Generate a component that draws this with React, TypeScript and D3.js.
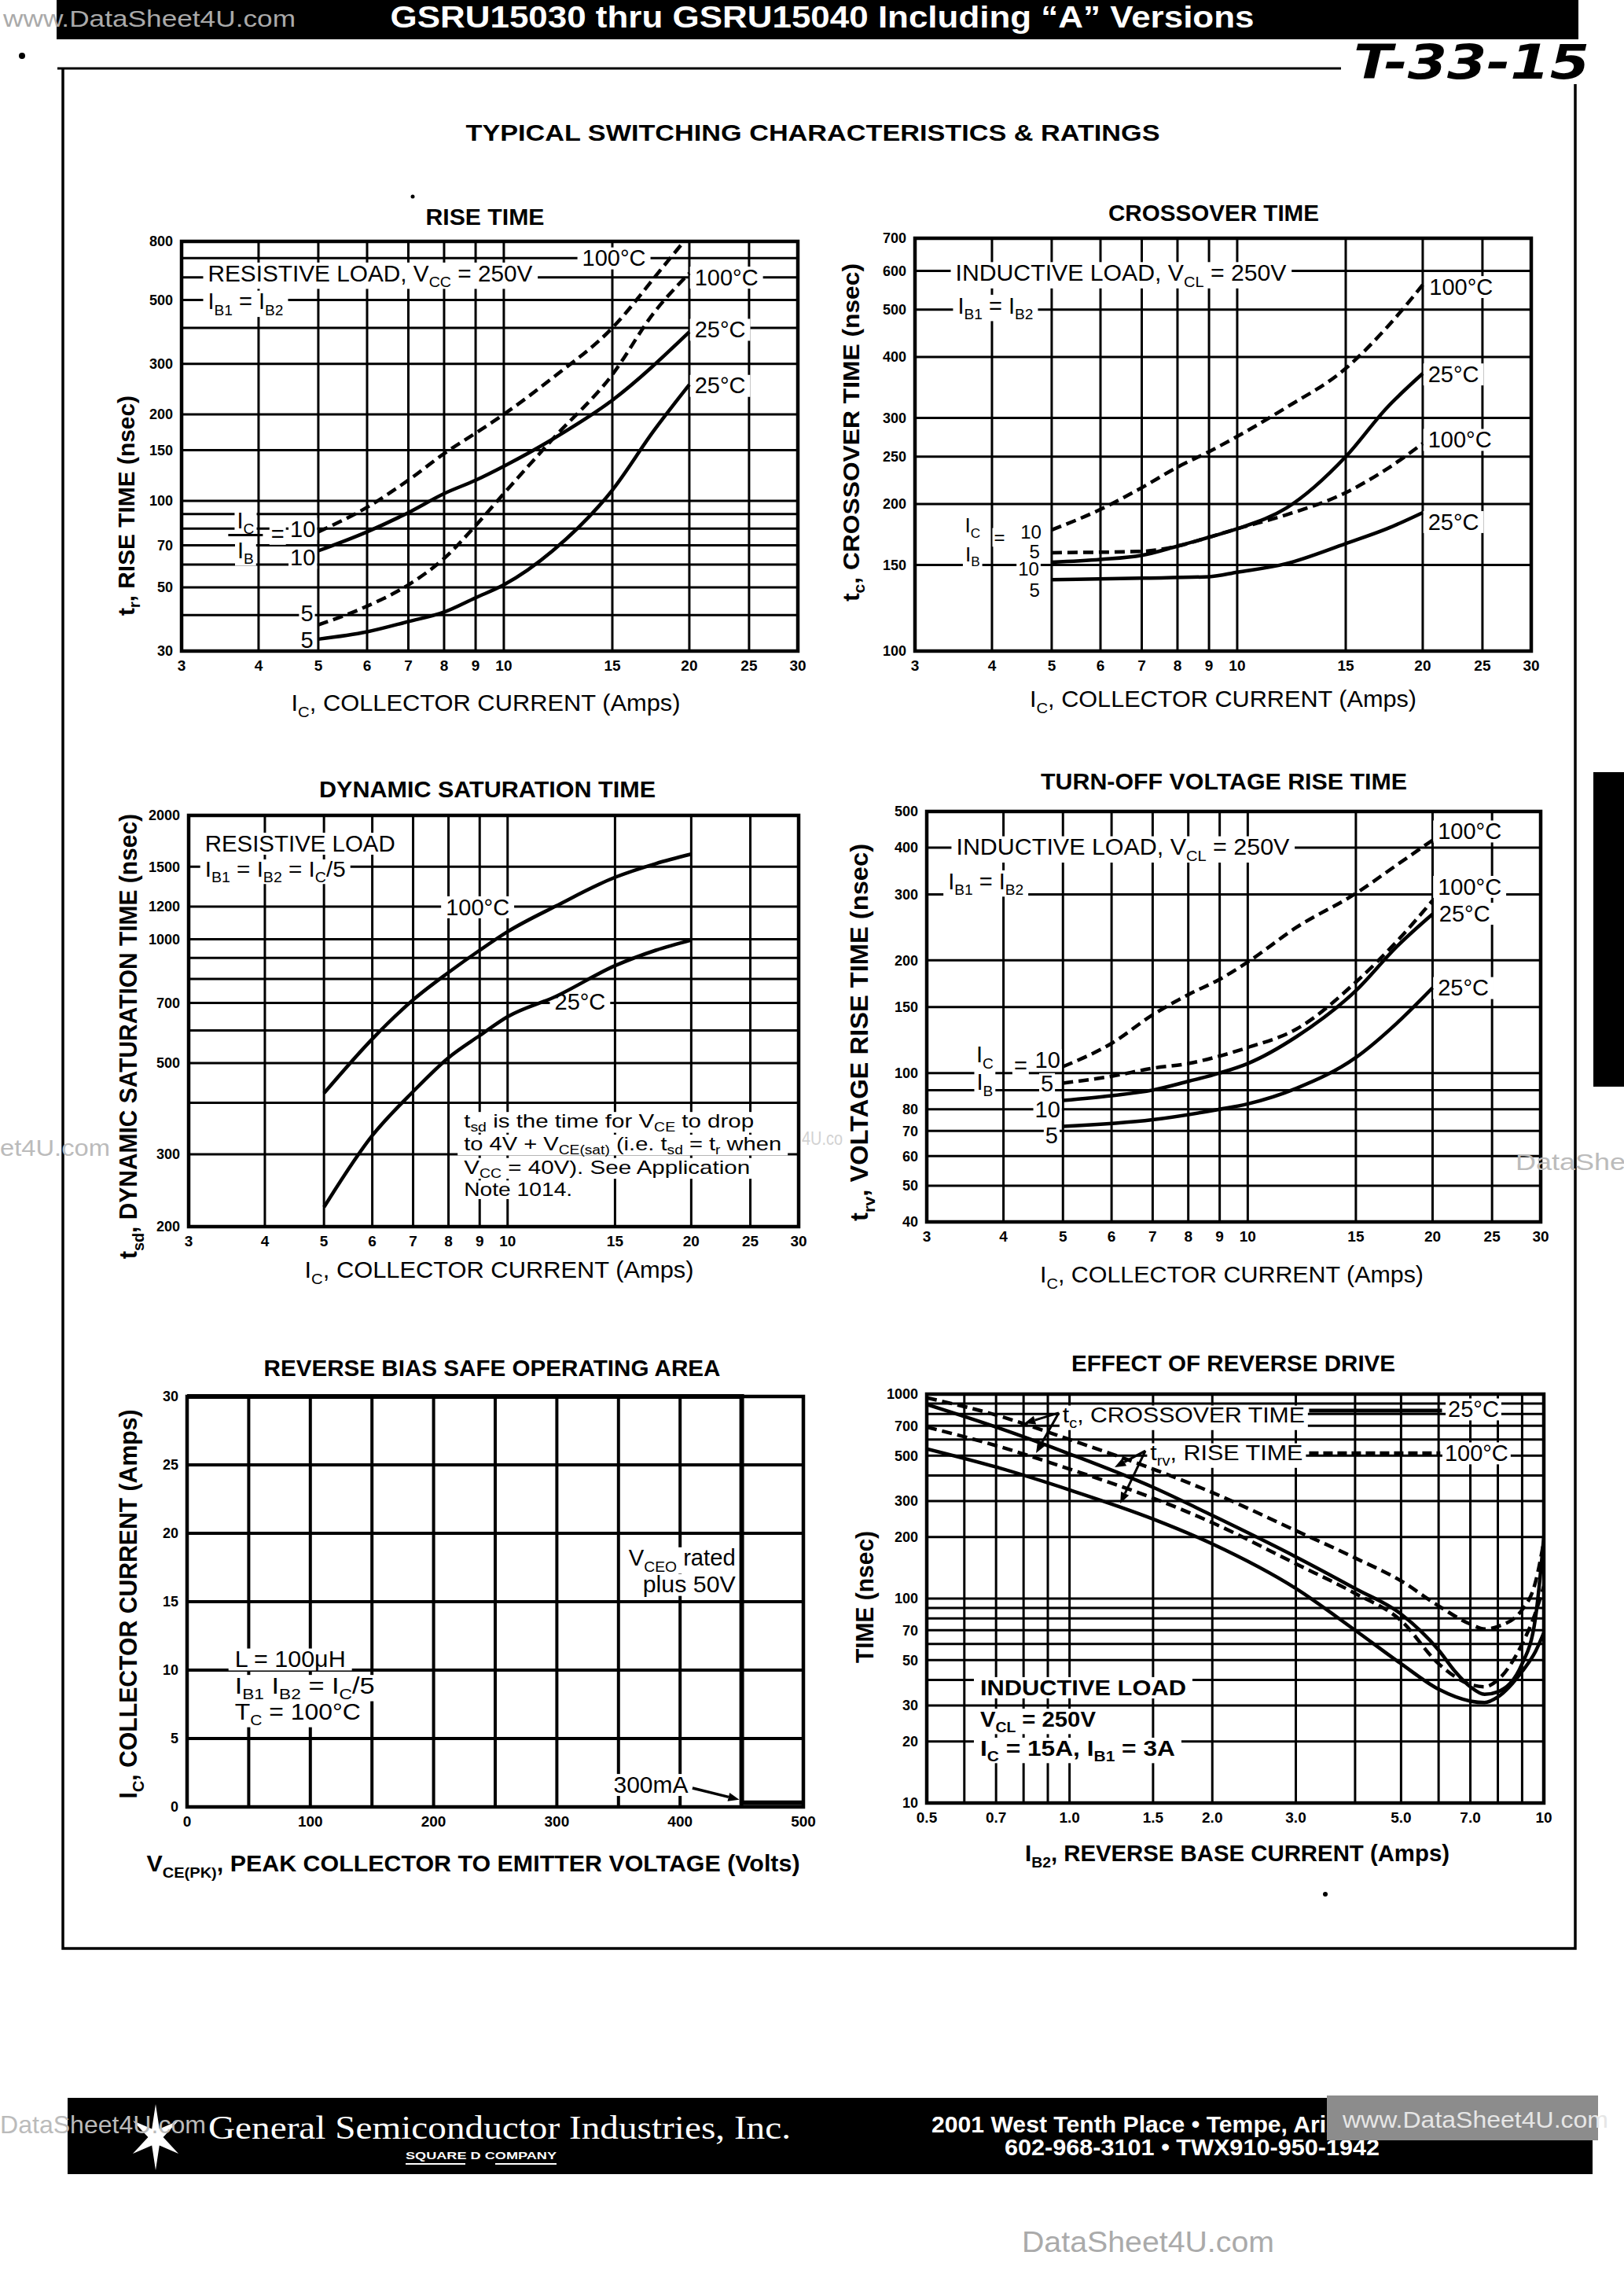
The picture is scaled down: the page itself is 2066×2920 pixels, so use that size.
import React, { useLayoutEffect, useRef, useState } from 'react';
import * as d3 from 'd3';

const FONT = "'Liberation Sans', Arial, Helvetica, sans-serif";
const SERIF = "'Liberation Serif', 'Times New Roman', serif";

// collector current axis shared by the four Ic charts
const icTicks = [3, 4, 5, 6, 7, 8, 9, 10, 15, 20, 25, 30];
const icGrid = [4, 5, 6, 7, 8, 9, 10, 15, 20, 25];

// rise time, resistive load (Ic, nsec)
const riseTicks = [30, 50, 70, 100, 150, 200, 300, 500, 800];
const riseGrid = [40, 50, 60, 70, 80, 90, 100, 150, 200, 300, 400, 500, 600, 700];
const rise100Ratio10 = [[5, 78], [6, 95], [7, 118], [8, 146], [9, 172], [10, 200], [12, 268], [15, 400], [18, 640], [19.6, 800]];
const rise100Ratio5 = [[5, 37], [6, 43], [7, 51], [8, 63], [9, 82], [10, 106], [12, 164], [15, 275], [17.5, 450], [20, 620]];
const rise25Ratio10 = [[5, 67], [6, 78], [7, 91], [8, 106], [9, 118], [10, 132], [12, 164], [15, 224], [20, 387]];
const rise25Ratio5 = [[5, 33], [6, 35], [7, 38], [8, 41], [9, 46], [10, 51], [12, 67], [15, 109], [17.5, 175], [20, 254]];

// crossover time, inductive load
const crossTicks = [100, 150, 200, 250, 300, 400, 500, 600, 700];
const crossGrid = [150, 200, 250, 300, 400, 500, 600];
const cross100Ratio10 = [[5, 177], [6, 195], [7, 216], [8, 238], [9, 256], [10, 275], [12, 315], [15, 379], [17.5, 460], [20, 562]];
const cross25Ratio10 = [[5, 152], [6, 154], [7, 157], [8, 164], [9, 171], [10, 178], [12, 196], [15, 250], [17.5, 315], [20, 370]];
const cross100Ratio5 = [[5, 159], [7, 160], [8, 164], [9, 171], [10, 178], [12, 190], [15, 211], [17.5, 236], [20, 266]];
const cross25Ratio5 = [[5, 140], [7, 141], [9, 142], [10, 145], [12, 151], [15, 166], [17.5, 178], [20, 192]];

// dynamic saturation time
const satTicks = [200, 300, 500, 700, 1000, 1200, 1500, 2000];
const satGrid = [300, 400, 500, 600, 700, 800, 900, 1000, 1200, 1500];
const sat100 = [[5, 422], [6, 572], [7, 712], [8, 830], [9, 940], [10, 1043], [12, 1204], [15, 1414], [17.5, 1527], [20, 1610]];
const sat25 = [[5, 223], [6, 333], [7, 426], [8, 515], [9, 583], [10, 648], [12, 726], [15, 862], [17.5, 940], [20, 995]];

// turn-off voltage rise time
const vrTicks = [40, 50, 60, 70, 80, 100, 150, 200, 300, 400, 500];
const vrGrid = [50, 60, 70, 80, 90, 100, 150, 200, 300, 400];
const vr100Ratio10 = [[5, 104], [6, 120], [7, 143], [8, 162], [9, 178], [10, 198], [12, 245], [15, 302], [17.5, 360], [20, 419]];
const vr100Ratio5 = [[5, 94], [6, 98], [7, 103], [8, 106], [9, 111], [10, 117], [12, 131], [15, 175], [17.5, 225], [20, 289]];
const vr25Ratio10 = [[5, 84.5], [6, 87], [7, 90], [8, 95], [9, 100], [10, 106], [12, 125], [15, 166], [17.5, 218], [20, 266]];
const vr25Ratio5 = [[5, 72], [7, 75], [9, 80], [10, 82.7], [12, 91], [15, 110], [17.5, 136], [20, 169]];

// reverse bias safe operating area (Volts, Amps)
const vceTicks = [0, 100, 200, 300, 400, 500];
const vceGrid = [50, 100, 150, 200, 250, 300, 350, 400, 450];
const soaTicks = [0, 5, 10, 15, 20, 25, 30];
const soaGrid = [5, 10, 15, 20, 25];
const soaBoundary = [[0, 30], [450, 30], [450, 0.3], [500, 0.3]];

// effect of reverse drive (Ib2 Amps, nsec)
const ib2Ticks = [0.5, 0.7, 1, 1.5, 2, 3, 5, 7, 10];
const ib2Grid = [0.6, 0.7, 0.8, 0.9, 1, 1.5, 2, 3, 4, 5, 6, 7, 8, 9];
const timeTicks = [10, 20, 30, 50, 70, 100, 200, 300, 500, 700, 1000];
const timeGrid = [20, 30, 40, 50, 60, 70, 80, 90, 100, 200, 300, 400, 500, 600, 700, 800, 900];
const tc100 = [[0.5, 960], [0.7, 790], [1, 600], [1.5, 430], [2, 330], [3, 215], [4, 158], [5, 122], [6, 92], [7, 75], [7.5, 71], [8, 73], [9, 88], [9.6, 120], [10, 190]];
const tc25 = [[0.5, 890], [0.7, 690], [1, 510], [1.5, 350], [2, 255], [3, 160], [4, 112], [5, 84], [6, 56], [6.5, 44], [7, 37], [7.5, 34], [8, 35], [9, 48], [9.6, 80], [10, 200]];
const trv100 = [[0.5, 690], [0.7, 560], [1, 430], [1.5, 310], [2, 235], [3, 148], [4, 106], [5, 78], [6, 48], [7, 38], [7.5, 37], [8, 40], [9, 60], [9.6, 85], [10, 115]];
const trv25 = [[0.5, 540], [0.7, 440], [1, 340], [1.5, 245], [2, 185], [3, 112], [4, 70], [5, 48], [6, 36], [7, 31.5], [7.5, 31], [8, 33], [9, 44], [9.6, 55], [10, 68]];

type Part = string | { s: string };
type Box = { l: number; r: number; t: number; b: number };

const P1: Box = { l: 231, r: 1015, t: 307, b: 828 };
const P2: Box = { l: 1164, r: 1948, t: 303, b: 828 };
const P3: Box = { l: 240, r: 1016, t: 1037, b: 1560 };
const P4: Box = { l: 1179, r: 1960, t: 1032, b: 1554 };
const P5: Box = { l: 238, r: 1022, t: 1776, b: 2298 };
const P6: Box = { l: 1179, r: 1964, t: 1773, b: 2293 };

// text with subscripts
function rich(parts: Part[] | string, size: number, shift = 0.26) {
  if (typeof parts === 'string') return parts;
  const sh = size * shift;
  let low = false;
  return parts.map((p, i) => {
    if (typeof p === 'string') {
      const dy = low ? -sh : undefined;
      low = false;
      return <tspan key={i} dy={dy}>{p}</tspan>;
    }
    const dy = low ? undefined : sh;
    low = true;
    return <tspan key={i} dy={dy} fontSize={size * 0.66}>{p.s}</tspan>;
  });
}

// label on a white patch that breaks the grid behind it
function Label({ x, y, size = 29, weight = 'normal', anchor = 'start', len, pad = 6, parts, shift }: any) {
  const ref = useRef<SVGTextElement>(null);
  const [bb, setBb] = useState<{ x: number; y: number; w: number; h: number } | null>(null);
  useLayoutEffect(() => {
    if (ref.current) {
      const b = ref.current.getBBox();
      setBb({ x: b.x, y: b.y, w: b.width, h: b.height });
    }
  }, []);
  return (
    <g>
      {bb && pad >= 0 && (
        <rect x={bb.x - pad} y={bb.y + size * 0.08} width={bb.w + pad * 2} height={bb.h - size * 0.14} fill="#fff" />
      )}
      <text ref={ref} x={x} y={y} dy="0.35em" fontFamily={FONT} fontSize={size} fontWeight={weight} textAnchor={anchor}
        fill="#000" textLength={len} lengthAdjust={len ? 'spacingAndGlyphs' : undefined}>
        {rich(parts, size, shift)}
      </text>
    </g>
  );
}

function YLabel({ cx, cy, len, size = 32, parts }: any) {
  return (
    <text transform={`translate(${cx},${cy}) rotate(-90)`} textAnchor="middle" dy="0.35em" fontFamily={FONT}
      fontWeight="bold" fontSize={size} textLength={len} lengthAdjust="spacingAndGlyphs">
      {rich(parts, size)}
    </text>
  );
}

function Arrow({ x1, y1, x2, y2, head = 16, w = 3 }: any) {
  const a = Math.atan2(y2 - y1, x2 - x1);
  const c = Math.cos(a), s = Math.sin(a);
  const bx = x2 - head * c, by = y2 - head * s;
  const pts = [[x2, y2], [bx + head * 0.4 * s, by - head * 0.4 * c], [bx - head * 0.4 * s, by + head * 0.4 * c]];
  return (
    <g>
      <line x1={x1} y1={y1} x2={bx} y2={by} stroke="#000" strokeWidth={w} />
      <polygon points={pts.map(p => p.join(',')).join(' ')} fill="#000" />
    </g>
  );
}

function Panel({ id, box, x, y, gridX, gridY, ticksX, ticksY, fmtX = String, curves, gridW = 3, children }: any) {
  const line = d3.line<number[]>().x(d => x(d[0])).y(d => y(d[1])).curve(d3.curveMonotoneX);
  const w = box.r - box.l, h = box.b - box.t;
  return (
    <g>
      <clipPath id={id}><rect x={box.l} y={box.t} width={w} height={h} /></clipPath>
      <g stroke="#000" strokeWidth={gridW}>
        {gridX.map((v: number) => <line key={'gx' + v} x1={x(v)} x2={x(v)} y1={box.t} y2={box.b} />)}
        {gridY.map((v: number) => <line key={'gy' + v} x1={box.l} x2={box.r} y1={y(v)} y2={y(v)} />)}
      </g>
      {children}
      <g clipPath={`url(#${id})`} fill="none" stroke="#000" strokeWidth={4.5}>
        {curves.map((c: any, i: number) => (
          <path key={i} d={line(c.pts) || ''} strokeDasharray={c.dashed ? '13 7' : undefined} />
        ))}
      </g>
      <rect x={box.l} y={box.t} width={w} height={h} fill="none" stroke="#000" strokeWidth={4.5} />
      <g fontFamily={FONT} fontWeight="bold" fontSize={18} textAnchor="end">
        {ticksY.map((v: number) => <text key={v} x={box.l - 11} y={y(v)} dy="0.35em">{v}</text>)}
      </g>
      <g fontFamily={FONT} fontWeight="bold" fontSize={19} textAnchor="middle">
        {ticksX.map((v: number) => <text key={v} x={x(v)} y={box.b + 25}>{fmtX(v)}</text>)}
      </g>
    </g>
  );
}

function Title({ x, y, text, len }: any) {
  return (
    <text x={x} y={y} dy="0.35em" textAnchor="middle" fontFamily={FONT} fontWeight="bold" fontSize={30}
      textLength={len} lengthAdjust="spacingAndGlyphs">{text}</text>
  );
}

function XLabel({ x, y, parts, len, bold = false }: any) {
  return (
    <text x={x} y={y} dy="0.35em" textAnchor="middle" fontFamily={FONT} fontWeight={bold ? 'bold' : 'normal'}
      fontSize={29} textLength={len} lengthAdjust="spacingAndGlyphs">{rich(parts, 29)}</text>
  );
}

function Fraction({ x, y, top, bottom }: any) {
  return (
    <g>
      <Label x={x} y={y - 19} anchor="middle" pad={3} parts={top} />
      <Label x={x} y={y + 19} anchor="middle" pad={3} parts={bottom} />
      <line x1={x - 22} x2={x + 22} y1={y} y2={y} stroke="#000" strokeWidth={3} />
    </g>
  );
}

const icLabel: Part[] = ['I', { s: 'C' }, ', COLLECTOR CURRENT (Amps)'];
const ib12: Part[] = ['I', { s: 'B1' }, ' = I', { s: 'B2' }];

export default function App() {
  const x1 = d3.scaleLog().domain([3, 30]).range([P1.l, P1.r]);
  const y1 = d3.scaleLog().domain([30, 800]).range([P1.b, P1.t]);
  const x2 = d3.scaleLog().domain([3, 30]).range([P2.l, P2.r]);
  const y2 = d3.scaleLog().domain([100, 700]).range([P2.b, P2.t]);
  const x3 = d3.scaleLog().domain([3, 30]).range([P3.l, P3.r]);
  const y3 = d3.scaleLog().domain([200, 2000]).range([P3.b, P3.t]);
  const x4 = d3.scaleLog().domain([3, 30]).range([P4.l, P4.r]);
  const y4 = d3.scaleLog().domain([40, 500]).range([P4.b, P4.t]);
  const x5 = d3.scaleLinear().domain([0, 500]).range([P5.l, P5.r]);
  const y5 = d3.scaleLinear().domain([0, 30]).range([P5.b, P5.t]);
  const x6 = d3.scaleLog().domain([0.5, 10]).range([P6.l, P6.r]);
  const y6 = d3.scaleLog().domain([10, 1000]).range([P6.b, P6.t]);

  const soaLine = d3.line<number[]>().x(d => x5(d[0])).y(d => y5(d[1]));
  const star = d3.range(12).map(i => {
    const a = (i * Math.PI) / 6 - Math.PI / 2;
    const r = i % 2 === 0 ? 42 : 12;
    return [198 + r * Math.cos(a) * 0.8, 2718 + r * Math.sin(a)];
  });

  return (
    <svg width={2066} height={2920} style={{ position: 'absolute', left: 0, top: 0, display: 'block' }}>
      <rect width={2066} height={2920} fill="#fff" />

      {/* header band */}
      <rect x={72} y={0} width={1936} height={50} fill="#000" />
      <text x={1046} y={35} textAnchor="middle" fontFamily={FONT} fontWeight="bold" fontSize={38} fill="#fff"
        textLength={1099} lengthAdjust="spacingAndGlyphs">GSRU15030 thru GSRU15040 Including {'\u201CA\u201D'} Versions</text>
      <text x={4} y={34} fontFamily={FONT} fontSize={30} fill="#aaa" textLength={372} lengthAdjust="spacingAndGlyphs">www.DataSheet4U.com</text>
      <line x1={73} x2={1706} y1={87} y2={87} stroke="#000" strokeWidth={3} />
      <text x={1722} y={100} fontFamily="'DejaVu Sans', sans-serif" fontWeight="bold" fontStyle="italic" fontSize={60}
        textLength={300} lengthAdjust="spacingAndGlyphs">T-33-15</text>
      <circle cx={28} cy={71} r={4} fill="#000" />

      {/* page frame */}
      <path d="M80,87 V2478 H2004 V107" fill="none" stroke="#000" strokeWidth={3.5} />
      <rect x={2027} y={982} width={39} height={400} fill="#000" />

      <Title x={1034} y={168} text="TYPICAL SWITCHING CHARACTERISTICS & RATINGS" len={883} />

      {/* rise time */}
      <Title x={617} y={275} text="RISE TIME" len={151} />
      <circle cx={525} cy={250} r={2.5} fill="#000" />
      <Panel id="c1" box={P1} x={x1} y={y1} gridX={icGrid} gridY={riseGrid} ticksX={icTicks} ticksY={riseTicks}
        curves={[
          { pts: rise100Ratio10, dashed: true },
          { pts: rise100Ratio5, dashed: true },
          { pts: rise25Ratio10 },
          { pts: rise25Ratio5 },
        ]}>
        <Label x={x1(3.31)} y={y1(620)} len={413} parts={['RESISTIVE LOAD, V', { s: 'CC' }, ' = 250V']} />
        <Label x={x1(3.31)} y={y1(495)} parts={ib12} />
        <Label x={x1(13.4)} y={y1(700)} parts="100°C" />
        <Label x={x1(20.4)} y={y1(600)} parts="100°C" />
        <Label x={x1(20.4)} y={y1(395)} parts="25°C" />
        <Label x={x1(20.4)} y={y1(252)} parts="25°C" />
        <Fraction x={x1(3.81)} y={y1(76)} top={['I', { s: 'C' }]} bottom={['I', { s: 'B' }]} />
        <Label x={x1(4.19)} y={y1(77)} pad={2} parts="=" />
        <Label x={x1(4.5)} y={y1(80)} pad={2} parts="10" />
        <Label x={x1(4.5)} y={y1(63.5)} pad={2} parts="10" />
        <Label x={x1(4.68)} y={y1(40.6)} pad={2} parts="5" />
        <Label x={x1(4.68)} y={y1(32.8)} pad={2} parts="5" />
      </Panel>
      <YLabel cx={160} cy={643} len={280} size={30} parts={['t', { s: 'r' }, ', RISE TIME (nsec)']} />
      <XLabel x={618} y={894} len={495} parts={icLabel} />

      {/* crossover time */}
      <Title x={1544} y={270} text="CROSSOVER TIME" len={268} />
      <Panel id="c2" box={P2} x={x2} y={y2} gridX={icGrid} gridY={crossGrid} ticksX={icTicks} ticksY={crossTicks}
        curves={[
          { pts: cross100Ratio10, dashed: true },
          { pts: cross25Ratio10 },
          { pts: cross100Ratio5, dashed: true },
          { pts: cross25Ratio5 },
        ]}>
        <Label x={x2(3.49)} y={y2(595)} len={421} parts={['INDUCTIVE LOAD, V', { s: 'CL' }, ' = 250V']} />
        <Label x={x2(3.52)} y={y2(510)} parts={ib12} />
        <Label x={x2(20.5)} y={y2(557)} parts="100°C" />
        <Label x={x2(20.4)} y={y2(369)} parts="25°C" />
        <Label x={x2(20.4)} y={y2(271)} parts="100°C" />
        <Label x={x2(20.4)} y={y2(184)} parts="25°C" />
        <Label x={x2(3.72)} y={y2(181)} anchor="middle" size={26} pad={3} parts={['I', { s: 'C' }]} />
        <Label x={x2(3.72)} y={y2(158)} anchor="middle" size={26} pad={3} parts={['I', { s: 'B' }]} />
        <Label x={x2(4.03)} y={y2(171)} size={24} pad={2} parts="=" />
        <Label x={x2(4.45)} y={y2(175)} size={24} pad={2} parts="10" />
        <Label x={x2(4.6)} y={y2(160)} size={24} pad={2} parts="5" />
        <Label x={x2(4.41)} y={y2(147)} size={24} pad={2} parts="10" />
        <Label x={x2(4.6)} y={y2(133)} size={24} pad={2} parts="5" />
      </Panel>
      <YLabel cx={1082} cy={550} len={430} size={30} parts={['t', { s: 'c' }, ', CROSSOVER TIME (nsec)']} />
      <XLabel x={1556} y={889} len={492} parts={icLabel} />

      {/* dynamic saturation time */}
      <Title x={620} y={1003} text="DYNAMIC SATURATION TIME" len={428} />
      <Panel id="c3" box={P3} x={x3} y={y3} gridX={icGrid} gridY={satGrid} ticksX={icTicks} ticksY={satTicks}
        curves={[{ pts: sat100 }, { pts: sat25 }]}>
        <Label x={x3(3.19)} y={y3(1710)} len={242} parts="RESISTIVE LOAD" />
        <Label x={x3(3.19)} y={y3(1480)} len={179} size={27} parts={['I', { s: 'B1' }, ' = I', { s: 'B2' }, ' = I', { s: 'C' }, '/5']} />
        <Label x={x3(7.92)} y={y3(1198)} parts="100°C" />
        <Label x={x3(11.94)} y={y3(706)} parts="25°C" />
        <Label x={x3(8.48)} y={y3(361)} size={24} shift={0.2} len={369} pad={8}
          parts={['t', { s: 'sd' }, ' is the time for V', { s: 'CE' }, ' to drop']} />
        <Label x={x3(8.48)} y={y3(318)} size={24} shift={0.2} len={404} pad={8}
          parts={['to 4V + V', { s: 'CE(sat)' }, ' (i.e. t', { s: 'sd' }, ' = t', { s: 'r' }, ' when']} />
        <Label x={x3(8.48)} y={y3(279)} size={24} shift={0.2} len={364} pad={8}
          parts={['V', { s: 'CC' }, ' = 40V). See Application']} />
        <Label x={x3(8.48)} y={y3(246)} size={24} len={138} pad={8} parts="Note 1014." />
      </Panel>
      <YLabel cx={163} cy={1318} len={566} size={32} parts={['t', { s: 'sd' }, ', DYNAMIC SATURATION TIME (nsec)']} />
      <XLabel x={635} y={1615} len={495} parts={icLabel} />

      {/* turn-off voltage rise time */}
      <Title x={1557} y={993} text="TURN-OFF VOLTAGE RISE TIME" len={466} />
      <Panel id="c4" box={P4} x={x4} y={y4} gridX={icGrid} gridY={vrGrid} ticksX={icTicks} ticksY={vrTicks}
        curves={[
          { pts: vr100Ratio10, dashed: true },
          { pts: vr100Ratio5, dashed: true },
          { pts: vr25Ratio10 },
          { pts: vr25Ratio5 },
        ]}>
        <Label x={x4(3.35)} y={y4(402)} len={424} parts={['INDUCTIVE LOAD, V', { s: 'CL' }, ' = 250V']} />
        <Label x={x4(3.25)} y={y4(326)} parts={ib12} />
        <Label x={x4(20.4)} y={y4(443)} parts="100°C" />
        <Label x={x4(20.4)} y={y4(315)} parts="100°C" />
        <Label x={x4(20.5)} y={y4(267)} parts="25°C" />
        <Label x={x4(20.4)} y={y4(169)} parts="25°C" />
        <Label x={x4(3.73)} y={y4(112)} anchor="middle" pad={3} parts={['I', { s: 'C' }]} />
        <Label x={x4(3.73)} y={y4(94.6)} anchor="middle" pad={3} parts={['I', { s: 'B' }]} />
        <Label x={x4(4.16)} y={y4(105)} pad={2} parts="=" />
        <Label x={x4(4.5)} y={y4(108.5)} pad={2} parts="10" />
        <Label x={x4(4.6)} y={y4(93.6)} pad={2} parts="5" />
        <Label x={x4(4.5)} y={y4(80)} pad={2} parts="10" />
        <Label x={x4(4.68)} y={y4(68)} pad={2} parts="5" />
      </Panel>
      <YLabel cx={1093} cy={1313} len={480} size={32} parts={['t', { s: 'rv' }, ', VOLTAGE RISE TIME (nsec)']} />
      <XLabel x={1567} y={1621} len={488} parts={icLabel} />

      {/* reverse bias safe operating area */}
      <Title x={626} y={1739} text="REVERSE BIAS SAFE OPERATING AREA" len={581} />
      <Panel id="c5" box={P5} x={x5} y={y5} gridX={vceGrid} gridY={soaGrid} ticksX={vceTicks} ticksY={soaTicks}
        gridW={4} curves={[]}>
        <Label x={x5(38.7)} y={y5(10.8)} len={141} pad={8} parts="L = 100μH" />
        <Label x={x5(38.7)} y={y5(8.87)} len={178} pad={8} parts={['I', { s: 'B1' }, ' I', { s: 'B2' }, ' = I', { s: 'C' }, '/5']} />
        <Label x={x5(38.7)} y={y5(6.97)} len={160} pad={8} parts={['T', { s: 'C' }, ' = 100°C']} />
        <Label x={x5(445)} y={y5(18.2)} anchor="end" len={136} pad={8} parts={['V', { s: 'CEO' }, ' rated']} />
        <Label x={x5(445)} y={y5(16.25)} anchor="end" len={118} pad={8} parts="plus 50V" />
        <Label x={x5(346)} y={y5(1.63)} len={95} pad={6} parts="300mA" />
      </Panel>
      <path d={soaLine(soaBoundary) || ''} fill="none" stroke="#000" strokeWidth={6} />
      <Arrow x1={x5(410)} y1={y5(1.38)} x2={x5(448)} y2={y5(0.53)} head={14} w={3.5} />
      <YLabel cx={163} cy={2040} len={495} size={32} parts={['I', { s: 'C' }, ', COLLECTOR CURRENT (Amps)']} />
      <XLabel x={602} y={2370} len={831} bold parts={['V', { s: 'CE(PK)' }, ', PEAK COLLECTOR TO EMITTER VOLTAGE (Volts)']} />

      {/* effect of reverse drive */}
      <Title x={1569} y={1733} text="EFFECT OF REVERSE DRIVE" len={412} />
      <Panel id="c6" box={P6} x={x6} y={y6} gridX={ib2Grid} gridY={timeGrid} ticksX={ib2Ticks} ticksY={timeTicks}
        fmtX={(v: number) => (v === 10 ? '10' : v.toFixed(1))}
        curves={[
          { pts: tc100, dashed: true },
          { pts: tc25 },
          { pts: trv100, dashed: true },
          { pts: trv25 },
        ]}>
        <Label x={x6(0.967)} y={y6(788)} size={27} len={308} pad={4} parts={['t', { s: 'c' }, ', CROSSOVER TIME']} />
        <Label x={x6(6.28)} y={y6(845)} pad={3} parts="25°C" />
        <Label x={x6(1.48)} y={y6(515)} size={27} len={194} pad={4} parts={['t', { s: 'rv' }, ', RISE TIME']} />
        <Label x={x6(6.18)} y={y6(515)} pad={3} parts="100°C" />
        <Label x={x6(0.648)} y={y6(36.8)} weight="bold" size={28} len={262} pad={8} parts="INDUCTIVE LOAD" />
        <Label x={x6(0.648)} y={y6(25.8)} weight="bold" size={28} len={147} pad={8} parts={['V', { s: 'CL' }, ' = 250V']} />
        <Label x={x6(0.648)} y={y6(18.6)} weight="bold" size={28} len={248} pad={8}
          parts={['I', { s: 'C' }, ' = 15A, I', { s: 'B1' }, ' = 3A']} />
      </Panel>
      <line x1={x6(3.2)} x2={x6(6.1)} y1={y6(830)} y2={y6(830)} stroke="#000" strokeWidth={5} />
      <line x1={x6(3.2)} x2={x6(6.05)} y1={y6(515)} y2={y6(515)} stroke="#000" strokeWidth={4.5} strokeDasharray="12 6" />
      <Arrow x1={x6(0.949)} y1={y6(809)} x2={x6(0.803)} y2={y6(720)} head={14} />
      <Arrow x1={x6(0.949)} y1={y6(809)} x2={x6(0.85)} y2={y6(515)} head={14} />
      <Arrow x1={x6(1.445)} y1={y6(528)} x2={x6(1.245)} y2={y6(439)} head={14} />
      <Arrow x1={x6(1.445)} y1={y6(528)} x2={x6(1.279)} y2={y6(292)} head={14} />
      <YLabel cx={1100} cy={2031} len={168} size={32} parts="TIME (nsec)" />
      <XLabel x={1574} y={2357} len={540} bold parts={['I', { s: 'B2' }, ', REVERSE BASE CURRENT (Amps)']} />
      <circle cx={1686} cy={2409} r={3} fill="#000" />

      {/* scattered watermark text */}
      <text x={0} y={1470} fontFamily={FONT} fontSize={30} fill="#bbb" textLength={140} lengthAdjust="spacingAndGlyphs">et4U.com</text>
      <text x={1928} y={1488} fontFamily={FONT} fontSize={30} fill="#bbb" textLength={140} lengthAdjust="spacingAndGlyphs">DataShe</text>
      <text x={1020} y={1456} fontFamily={FONT} fontSize={24} fill="#d2d2d2" textLength={52} lengthAdjust="spacingAndGlyphs">4U.co</text>

      {/* footer band */}
      <rect x={86} y={2668} width={1940} height={97} fill="#000" />
      <polygon points={star.map(p => p.join(',')).join(' ')} fill="#fff" />
      <text x={265} y={2720} fontFamily={SERIF} fontSize={42} fill="#fff" textLength={741} lengthAdjust="spacingAndGlyphs">
        General Semiconductor Industries, Inc.
      </text>
      <text x={516} y={2746} fontFamily={FONT} fontWeight="bold" fontSize={13} fill="#fff" textLength={192} lengthAdjust="spacingAndGlyphs">
        SQUARE D COMPANY
      </text>
      <line x1={516} x2={592} y1={2752} y2={2752} stroke="#fff" strokeWidth={2} />
      <line x1={630} x2={708} y1={2752} y2={2752} stroke="#fff" strokeWidth={2} />
      <text x={1185} y={2712} fontFamily={FONT} fontWeight="bold" fontSize={30} fill="#fff" textLength={663} lengthAdjust="spacingAndGlyphs">
        2001 West Tenth Place • Tempe, Arizona 85281
      </text>
      <text x={1278} y={2741} fontFamily={FONT} fontWeight="bold" fontSize={30} fill="#fff" textLength={477} lengthAdjust="spacingAndGlyphs">
        602-968-3101 • TWX910-950-1942
      </text>
      <rect x={1688} y={2665} width={345} height={57} fill="#8c8c8c" />
      <text x={1708} y={2706} fontFamily={FONT} fontSize={30} fill="#e6e6e6" textLength={338} lengthAdjust="spacingAndGlyphs">www.DataSheet4U.com</text>
      <text x={0} y={2713} fontFamily={FONT} fontSize={32} fill="#bbb" textLength={262} lengthAdjust="spacingAndGlyphs">DataSheet4U.com</text>
      <text x={1300} y={2864} fontFamily={FONT} fontSize={36} fill="#aaa" textLength={321} lengthAdjust="spacingAndGlyphs">DataSheet4U.com</text>
    </svg>
  );
}
